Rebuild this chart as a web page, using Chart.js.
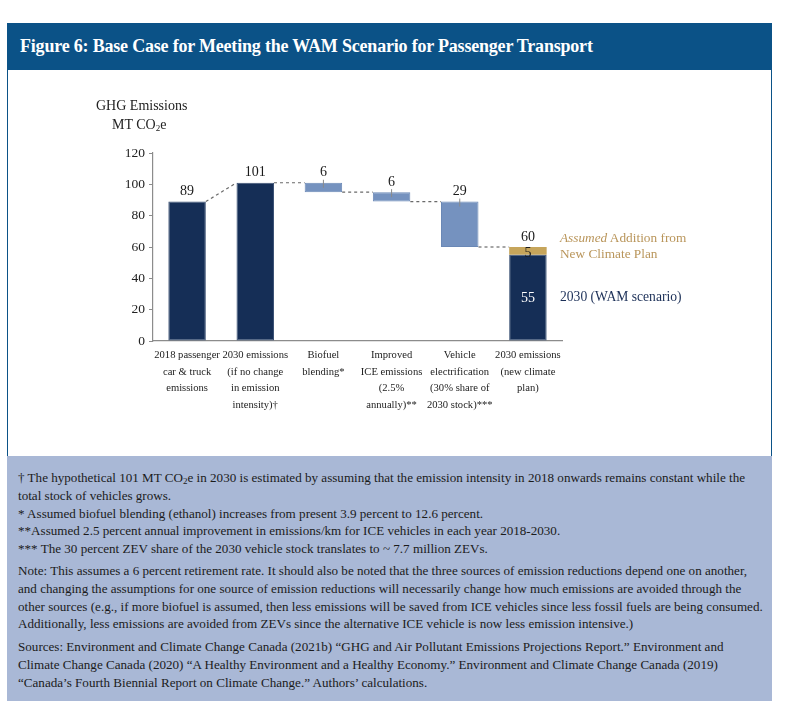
<!DOCTYPE html>
<html>
<head>
<meta charset="utf-8">
<script src="https://cdn.jsdelivr.net/npm/chart.js@4.4.0/dist/chart.umd.min.js"></script>
<style>
  body { margin:0; width:800px; height:717px; background:#fff; position:relative; font-family:'Liberation Serif', serif; overflow:hidden; }
  #header { position:absolute; left:7px; top:23px; width:765px; height:47px; background:#0B5287; color:#fff; }
  #header span { position:absolute; left:13px; top:13px; font-size:18px; font-weight:bold; white-space:nowrap; letter-spacing:-0.2px; }
  #panel { position:absolute; left:7px; top:70px; width:763px; height:386px; border-left:1px solid #0B5287; border-right:1px solid #0B5287; background:#fff; }
  #chartBox { position:absolute; left:0; top:0; width:763px; height:386px; }
  .txt { position:absolute; white-space:nowrap; }
  sub { line-height:0; vertical-align:-0.25em; }
  #notes { position:absolute; left:7px; top:456px; width:765px; height:245px; background:#A9B8D6; color:#1b1b1b; font-size:13.1px; }
  #notes p { margin:0; position:absolute; left:11px; line-height:17.8px; white-space:nowrap; }
</style>
</head>
<body>
<div id="header"><span>Figure 6: Base Case for Meeting the WAM Scenario for Passenger Transport</span></div>
<div id="panel">
  <div id="chartBox"><canvas id="myChart"></canvas></div>
  <div class="txt" style="left:88px;top:28px;font-size:14px;color:#222;">GHG Emissions</div>
  <div class="txt" style="left:104px;top:47px;font-size:14px;color:#222;">MT CO<sub style="font-size:9px">2</sub>e</div>
  <div class="txt" style="left:552px;top:160px;font-size:13.3px;color:#B9955A;line-height:16px;"><i>Assumed</i> Addition from<br>New Climate Plan</div>
  <div class="txt" style="left:552px;top:219px;font-size:13.6px;color:#1B2F57;">2030 (WAM scenario)</div>
</div>
<div id="notes">
  <p style="top:13px">† The hypothetical 101 MT CO<sub style="font-size:9px">2</sub>e in 2030 is estimated by assuming that the emission intensity in 2018 onwards remains constant while the<br>total stock of vehicles grows.<br>* Assumed biofuel blending (ethanol) increases from present 3.9 percent to 12.6 percent.<br>**Assumed 2.5 percent annual improvement in emissions/km for ICE vehicles in each year 2018-2030.<br>*** The 30 percent ZEV share of the 2030 vehicle stock translates to ~ 7.7 million ZEVs.</p>
  <p style="top:106px">Note: This assumes a 6 percent retirement rate. It should also be noted that the three sources of emission reductions depend one on another,<br>and changing the assumptions for one source of emission reductions will necessarily change how much emissions are avoided through the<br>other sources (e.g., if more biofuel is assumed, then less emissions will be saved from ICE vehicles since less fossil fuels are being consumed.<br>Additionally, less emissions are avoided from ZEVs since the alternative ICE vehicle is now less emission intensive.)</p>
  <p style="top:182px">Sources: Environment and Climate Change Canada (2021b) “GHG and Air Pollutant Emissions Projections Report.” Environment and<br>Climate Change Canada (2020) “A Healthy Environment and a Healthy Economy.” Environment and Climate Change Canada (2019)<br>“Canada’s Fourth Biennial Report on Climate Change.” Authors’ calculations.</p>
</div>
<script>
  const categories = [
    ['2018 passenger', 'car & truck', 'emissions'],
    ['2030 emissions', '(if no change', 'in emission', 'intensity)†'],
    ['Biofuel', 'blending*'],
    ['Improved', 'ICE emissions', '(2.5%', 'annually)**'],
    ['Vehicle', 'electrification', '(30% share of', '2030 stock)***'],
    ['2030 emissions', '(new climate', 'plan)']
  ];
  // bar bottoms and tops (MT CO2e)
  const barLow  = [0, 0, 95, 89, 60, 0];
  const barHigh = [89, 101, 101, 95, 89, 55];
  const barKind = ['total', 'total', 'step', 'step', 'step', 'total'];
  // gold "assumed addition" piece on the last bar
  const addLow  = [null, null, null, null, null, 55];
  const addHigh = [null, null, null, null, null, 60];
  const topLabels   = ['89', '101', '6', '6', '29', '60'];
  const innerLabels = ['', '', '', '', '', '55'];
  const addLabels   = ['', '', '', '', '', '5'];
  const yTicks = [0, 20, 40, 60, 80, 100, 120];

  const navy = '#152E56', light = '#7592BF', gold = '#C6A55B';

  const waterfallPlugin = {
    id: 'waterfall',
    afterDatasetsDraw(chart) {
      const ctx = chart.ctx;
      const y = chart.scales.y;
      const bars = chart.getDatasetMeta(0).data;
      const adds = chart.getDatasetMeta(1).data;
      ctx.save();
      // dashed connectors
      ctx.strokeStyle = '#6a6a6a';
      ctx.lineWidth = 1.2;
      ctx.setLineDash([3, 3]);
      for (let i = 0; i < bars.length - 1; i++) {
        const fromV = barKind[i] === 'step' ? barLow[i] : barHigh[i];
        const next = i + 1;
        const toV = addHigh[next] != null ? addHigh[next] : barHigh[next];
        ctx.beginPath();
        ctx.moveTo(bars[i].x + bars[i].width / 2, y.getPixelForValue(fromV));
        ctx.lineTo(bars[next].x - bars[next].width / 2, y.getPixelForValue(toV));
        ctx.stroke();
      }
      ctx.setLineDash([]);
      // labels
      ctx.font = '14px "Liberation Serif"';
      ctx.textAlign = 'center';
      ctx.textBaseline = 'middle';
      for (let i = 0; i < bars.length; i++) {
        const topV = addHigh[i] != null ? addHigh[i] : barHigh[i];
        const py = y.getPixelForValue(topV);
        ctx.fillStyle = '#1a1a1a';
        ctx.fillText(topLabels[i], bars[i].x, py - 10);
        if (barKind[i] === 'step') {
          ctx.strokeStyle = '#8a8a8a';
          ctx.lineWidth = 1;
          ctx.beginPath();
          ctx.moveTo(bars[i].x, py - 3);
          ctx.lineTo(bars[i].x, py + 5);
          ctx.stroke();
        }
        if (innerLabels[i]) {
          ctx.fillStyle = '#fff';
          ctx.fillText(innerLabels[i], bars[i].x, y.getPixelForValue((barLow[i] + barHigh[i]) / 2));
        }
        if (addLabels[i]) {
          ctx.fillStyle = '#1a1a1a';
          ctx.fillText(addLabels[i], adds[i].x, y.getPixelForValue((addLow[i] + addHigh[i]) / 2) + 2);
        }
      }
      ctx.restore();
    }
  };

  const data = {
    labels: categories,
    datasets: [{
      data: barLow.map((v, i) => [v, barHigh[i]]),
      backgroundColor: barKind.map(k => k === 'step' ? light : navy),
      borderColor: barKind.map(k => k === 'step' ? '#6A88B6' : '#3B5174'),
      borderWidth: 1,
      borderSkipped: false,
      barPercentage: 0.55,
      categoryPercentage: 1
    }, {
      data: addLow.map((v, i) => v == null ? null : [v, addHigh[i]]),
      backgroundColor: gold,
      borderColor: gold,
      borderWidth: 0,
      barPercentage: 0.55,
      categoryPercentage: 1
    }]
  };

  const config = {
    type: 'bar',
    data: data,
    plugins: [waterfallPlugin],
    options: {
      responsive: true,
      maintainAspectRatio: false,
      animation: false,
      layout: { padding: { left: 109, right: 209, top: 83, bottom: 15 } },
      plugins: { legend: { display: false }, tooltip: { enabled: false } },
      scales: {
        x: {
          stacked: true,
          grid: { display: false, drawTicks: false },
          border: { display: true, color: '#8c8c8c', width: 1.2 },
          ticks: {
            padding: 6, maxRotation: 0, autoSkip: false, color: '#222',
            font: { family: 'Liberation Serif', size: 10.6, lineHeight: 1.57 }
          },
          afterFit: s => { s.height = 100; }
        },
        y: {
          min: 0, max: 120,
          afterBuildTicks: s => { s.ticks = yTicks.map(v => ({ value: v })); },
          grid: { drawOnChartArea: false, drawTicks: true, tickLength: 4, color: '#8c8c8c' },
          border: { display: true, color: '#8c8c8c', width: 1.2 },
          ticks: { padding: 4, color: '#222', font: { family: 'Liberation Serif', size: 13.5 } },
          afterFit: s => { s.width = 36; }
        }
      }
    }
  };

  var myChart = new Chart(document.getElementById('myChart'), config);
</script>
</body>
</html>
